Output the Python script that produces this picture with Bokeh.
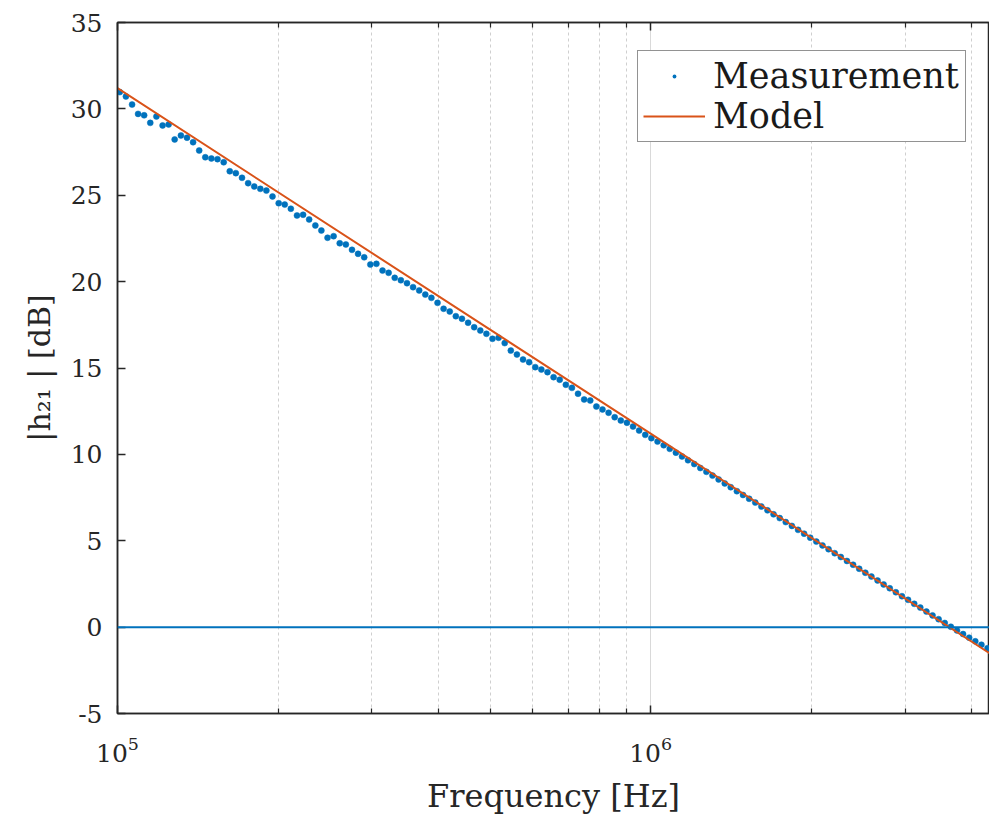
from bokeh.plotting import figure
from bokeh.models import (Range1d, LogAxis, FixedTicker, CustomJSTickFormatter,
                          LogTickFormatter, Span, Legend, LegendItem)
from bokeh.embed import file_html
from bokeh.resources import INLINE

# ---------------- data ----------------
freq_khz = [
    101.0, 103.7, 106.5, 109.3, 112.2, 115.2, 118.3, 121.5, 124.7, 128.0,
    131.5, 135.0, 138.6, 142.3, 146.1, 150.0, 154.0, 158.2, 162.4, 166.7,
    171.2, 175.8, 180.5, 185.3, 190.2, 195.3, 200.6, 205.9, 211.4, 217.1,
    222.9, 228.8, 235.0, 241.2, 247.7, 254.3, 261.1, 268.1, 275.3, 282.6,
    290.2, 298.0, 305.9, 314.1, 322.5, 331.1, 340.0, 349.1, 358.4, 368.0,
    377.8, 387.9, 398.3, 408.9, 419.9, 431.1, 442.6, 454.5, 466.6, 479.1,
    491.9, 505.0, 518.5, 532.4, 546.6, 561.2, 576.2, 591.6, 607.5, 623.7,
    640.4, 657.5, 675.1, 693.2, 711.7, 730.7, 750.3, 770.3, 790.9, 812.1,
    833.8, 856.1, 879.0, 902.5, 926.6, 951.4, 976.8, 1003, 1030, 1058,
    1086, 1115, 1145, 1175, 1207, 1239, 1272, 1306, 1341, 1377,
    1413, 1451, 1490, 1530, 1571, 1613, 1656, 1700, 1746, 1792,
    1840, 1890, 1940, 1992, 2045, 2100, 2156, 2214, 2273, 2334,
    2397, 2461, 2527, 2594, 2664, 2735, 2808, 2883, 2960, 3039,
    3121, 3204, 3290, 3378, 3468, 3561, 3656, 3754, 3854, 3957,
    4063, 4172, 4283,
]
measurement_db = [
    30.97, 30.72, 30.25, 29.71, 29.63, 29.19, 29.56, 29.04, 29.10, 28.23,
    28.46, 28.33, 28.07, 27.59, 27.20, 27.13, 27.09, 26.91, 26.39, 26.28,
    26.01, 25.70, 25.51, 25.37, 25.27, 24.93, 24.54, 24.46, 24.22, 23.83,
    23.87, 23.60, 23.25, 22.96, 22.54, 22.63, 22.22, 22.15, 21.84, 21.61,
    21.41, 20.99, 21.03, 20.64, 20.51, 20.22, 20.08, 19.91, 19.68, 19.49,
    19.25, 19.06, 18.77, 18.43, 18.27, 18.00, 17.85, 17.62, 17.36, 17.17,
    16.98, 16.69, 16.75, 16.44, 16.01, 15.78, 15.49, 15.34, 15.05, 14.91,
    14.76, 14.47, 14.32, 14.03, 13.85, 13.51, 13.18, 13.12, 12.77, 12.60,
    12.41, 12.15, 11.96, 11.83, 11.61, 11.38, 11.13, 10.94, 10.74, 10.53,
    10.32, 10.10, 9.88, 9.66, 9.44, 9.21, 8.99, 8.77, 8.55, 8.32,
    8.10, 7.87, 7.65, 7.43, 7.21, 6.98, 6.76, 6.53, 6.31, 6.08,
    5.86, 5.63, 5.41, 5.18, 4.95, 4.73, 4.51, 4.28, 4.06, 3.83,
    3.61, 3.38, 3.15, 2.93, 2.70, 2.47, 2.25, 2.02, 1.79, 1.58,
    1.35, 1.13, 0.90, 0.68, 0.46, 0.24, 0.02, -0.19, -0.40, -0.61,
    -0.82, -1.02, -1.22,
]
model_freq_hz = [1.0e5, 1.0e6, 4.4e6]
model_db = [31.2, 11.2, -1.67]

y_tick_values = [-5, 0, 5, 10, 15, 20, 25, 30, 35]
x_major_ticks = [1e5, 1e6]
x_minor_ticks = [2e5, 3e5, 4e5, 5e5, 6e5, 7e5, 8e5, 9e5, 2e6, 3e6, 4e6]

measurement_hz = [f * 1000 for f in freq_khz]

# ---------------- styling ----------------
FONT = "DejaVu Serif"
AX = "#262626"
BLUE = "#0072BD"
ORANGE = "#D95319"

p = figure(width=989, height=817, x_axis_type="log",
           x_range=Range1d(1e5, 4.32e6), y_range=Range1d(-5, 35),
           output_backend="svg", toolbar_location=None,
           min_border_left=117, min_border_right=0,
           min_border_top=22, min_border_bottom=104)
p.background_fill_color = "white"
p.border_fill_color = "white"
p.outline_line_color = AX
p.outline_line_width = 1.5

xt = FixedTicker(ticks=x_major_ticks, minor_ticks=x_minor_ticks)
yt = FixedTicker(ticks=y_tick_values, minor_ticks=[])

xa = p.xaxis[0]
xa.ticker = xt
xa.formatter = LogTickFormatter(min_exponent=0)
xa.axis_label = "Frequency [Hz]"
ya = p.yaxis[0]
ya.ticker = yt
ya.formatter = CustomJSTickFormatter(code="return tick.toString()")
ya.axis_label = "|h\u2082\u2081 | [dB]"

for ax in (xa, ya):
    ax.axis_line_color = AX
    ax.axis_line_width = 1.5
    ax.major_tick_line_color = AX
    ax.major_tick_line_width = 1.5
    ax.minor_tick_line_color = AX
    ax.minor_tick_line_width = 1.2
    ax.major_tick_in = 8
    ax.major_tick_out = 0
    ax.minor_tick_in = 5
    ax.minor_tick_out = 0
    ax.major_label_text_font = FONT
    ax.major_label_text_font_size = "25px"
    ax.major_label_text_color = AX
    ax.axis_label_text_font = FONT
    ax.axis_label_text_font_style = "normal"
    ax.axis_label_text_color = AX
ya.axis_label_text_font_size = "30px"
xa.axis_label_text_font_size = "32px"
ya.major_label_standoff = 15
xa.major_label_standoff = 23
ya.axis_label_standoff = 11
xa.axis_label_standoff = 12

top = LogAxis(ticker=xt, formatter=CustomJSTickFormatter(code="return ''"))
top.axis_line_color = AX
top.axis_line_width = 1.5
top.major_tick_line_color = AX
top.major_tick_line_width = 1.5
top.minor_tick_line_color = AX
top.minor_tick_line_width = 1.2
top.major_tick_in = 8
top.major_tick_out = 0
top.minor_tick_in = 5
top.minor_tick_out = 0
top.major_label_text_font_size = "0px"
top.major_label_standoff = 0
p.add_layout(top, "above")

p.xgrid.ticker = xt
p.xgrid.grid_line_color = "#d9d9d9"
p.xgrid.grid_line_width = 1
p.xgrid.minor_grid_line_color = "#cfcfcf"
p.xgrid.minor_grid_line_dash = "3 3"
p.xgrid.minor_grid_line_width = 1
p.ygrid.grid_line_color = None

sc = p.scatter(measurement_hz, measurement_db, size=6, marker="circle",
               fill_color=BLUE, line_color=BLUE, line_width=0.5)
ln = p.line(model_freq_hz, model_db, line_color=ORANGE, line_width=2)
# legend-only small dot (hidden under the first measurement point)
sc_leg = p.scatter(measurement_hz[:1], measurement_db[:1], marker="dot", size=6,
                   line_color=BLUE, fill_color=BLUE, line_width=2)

zero = Span(location=0, dimension="width", line_color=BLUE, line_width=2)
p.add_layout(zero)

legend = Legend(items=[LegendItem(label="Measurement", renderers=[sc_leg]),
                       LegendItem(label="Model", renderers=[ln])],
                location=(520, 571))
legend.label_text_font = FONT
legend.label_text_font_size = "35px"
legend.label_text_color = "#1a1a1a"
legend.border_line_color = AX
legend.border_line_width = 1.5
legend.background_fill_color = "white"
legend.background_fill_alpha = 1.0
legend.glyph_width = 62
legend.glyph_height = 38
legend.label_height = 38
legend.label_width = 247
legend.label_standoff = 8
legend.spacing = 0
legend.padding = 5
legend.margin = 0
p.add_layout(legend, "center")

open("out.html", "w").write(file_html(p, INLINE))
